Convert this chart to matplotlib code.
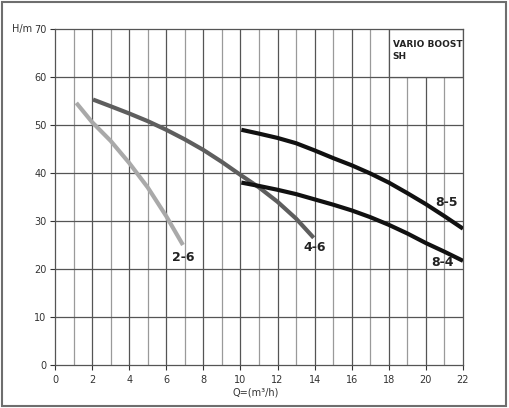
import matplotlib.pyplot as plt
from matplotlib.patches import Rectangle

# pump curves (Q in m3/h, H in m)
q_26 = [1.15, 2.0, 3.0, 4.0, 5.0, 6.0, 6.9]
h_26 = [54.6, 50.6, 46.7, 42.1, 37.0, 31.0, 25.0]

q_46 = [2.05, 3.0, 4.0, 5.0, 6.0, 7.0, 8.0, 9.0, 10.0, 11.0, 12.0, 13.0, 13.95]
h_46 = [55.3, 53.9, 52.4, 50.8, 49.0, 47.0, 44.8, 42.3, 39.6, 37.0, 34.0, 30.5, 26.5]

q_85 = [10.05, 11, 12, 13, 14, 15, 16, 17, 18, 19, 20, 21, 22]
h_85 = [49.0, 48.2, 47.3, 46.2, 44.7, 43.1, 41.6, 39.9, 38.0, 35.8, 33.5, 31.0, 28.4]

q_84 = [10.05, 11, 12, 13, 14, 15, 16, 17, 18, 19, 20, 21, 22]
h_84 = [38.0, 37.3, 36.5, 35.6, 34.5, 33.4, 32.2, 30.8, 29.2, 27.4, 25.4, 23.6, 21.7]

x_ticks = list(range(0, 23, 2))
y_ticks = list(range(0, 71, 10))

LABEL_FONT = ["Liberation Sans Narrow", "DejaVu Sans"]

fig = plt.figure(figsize=(5.09, 4.08), dpi=100)
fig.patches.append(Rectangle((0.004, 0.005), 0.99, 0.99, transform=fig.transFigure,
                             fill=False, edgecolor="#6e6e6e", linewidth=1.5))

ax = fig.add_axes([0.108, 0.1054, 0.8016, 0.8236])
ax.set_xlim(0, 22)
ax.set_ylim(0, 70)

# grid: odd Q lines lighter, even lines darker
for q in range(1, 22):
    ax.axvline(q, color="#9a9a9a" if q % 2 else "#555555", linewidth=0.9, zorder=1)
for h in range(10, 70, 10):
    ax.axhline(h, color="#555555", linewidth=0.9, zorder=1)

# white title box in the upper right corner
ax.add_patch(Rectangle((18, 60), 4, 10, facecolor="white", edgecolor="#555555",
                       linewidth=0.9, zorder=2))
ax.text(18.2, 67.6, "VARIO BOOST\nSH", fontsize=6.5, fontweight="bold",
        va="top", ha="left", linespacing=1.35, zorder=3, color="#222222")

ax.plot(q_26, h_26, color="#a9a9a9", linewidth=3.0, solid_capstyle="butt", zorder=4)
ax.plot(q_46, h_46, color="#5e5e5e", linewidth=3.0, solid_capstyle="butt", zorder=4)
ax.plot(q_85, h_85, color="#111111", linewidth=3.0, solid_capstyle="butt", zorder=5)
ax.plot(q_84, h_84, color="#111111", linewidth=3.0, solid_capstyle="butt", zorder=5)

for x, y, s in [(6.9, 22.3, "2-6"), (14.0, 24.4, "4-6"), (21.1, 33.8, "8-5"), (20.9, 21.3, "8-4")]:
    ax.text(x, y, s, fontsize=9, fontweight="bold", family=LABEL_FONT,
            ha="center", va="center", color="#222222", zorder=6)

for side in ["left", "bottom", "right", "top"]:
    ax.spines[side].set_color("#555555")
    ax.spines[side].set_linewidth(0.9)
ax.spines["right"].set_zorder(3)
ax.spines["top"].set_zorder(3)

ax.set_xticks(x_ticks)
ax.set_yticks(y_ticks)
ax.tick_params(axis="both", labelsize=7, colors="#333333", length=3.5, width=0.8,
               direction="out")
ax.tick_params(axis="x", pad=3.5)
ax.tick_params(axis="y", pad=2.5)

ax.text(-0.08, 1.0, "H/m", transform=ax.transAxes, fontsize=7, color="#333333",
        ha="center", va="center")
ax.text(10.8, -5.8, "Q=(m\u00b3/h)", fontsize=7, color="#333333", ha="center", va="center")

fig.savefig("out.png", dpi=100)
